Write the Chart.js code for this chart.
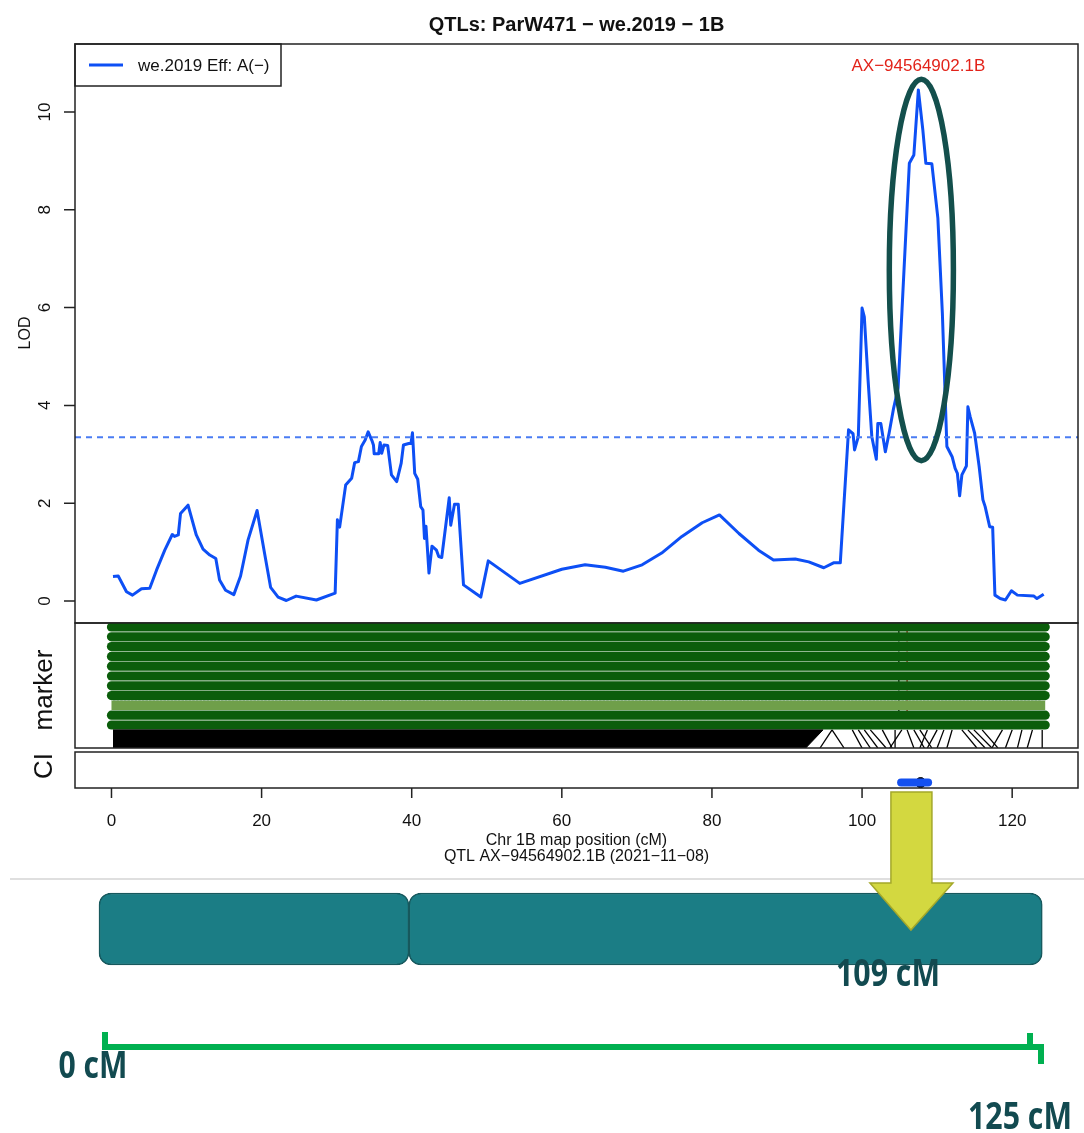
<!DOCTYPE html>
<html>
<head>
<meta charset="utf-8">
<title>QTLs: ParW471 − we.2019 − 1B</title>
<script src="https://cdn.jsdelivr.net/npm/chart.js@4.4.1/dist/chart.umd.min.js"></script>
<style>
  body { margin: 0; background: #fff; }
  #page { position: relative; width: 1084px; height: 1133px; overflow: hidden; }
  #page canvas { position: absolute; left: 0; }
</style>
</head>
<body>
<div id="page">
  <canvas id="lodChart" width="1084" height="625" style="top:0"></canvas>
  <canvas id="markerChart" width="1084" height="130" style="top:620px"></canvas>
  <canvas id="ciChart" width="1084" height="132" style="top:746px"></canvas>
  <canvas id="chromChart" width="1084" height="345" style="top:788px"></canvas>
</div>
<script>
// LOD profile along chromosome 1B (cM, LOD)
const lodPos = [0.2, 0.9, 2.0, 2.8, 4.0, 5.1, 6.0, 7.1, 8.1, 8.4, 8.9, 9.2, 10.2, 11.3, 12.2, 13.1, 13.9, 14.4, 15.2, 16.3,
  17.2, 18.2, 19.4, 20.4, 21.2, 22.2, 23.3, 24.6, 27.3, 29.8, 30.1, 30.4, 31.2, 32.0, 32.4, 32.9, 33.3, 33.8, 34.2, 34.7,
  34.9, 35.0, 35.6, 35.8, 36.0, 36.3, 36.8, 37.3, 38.0, 38.6, 38.9, 39.6, 39.9, 40.1, 40.4, 40.8, 41.2, 41.5, 41.7, 41.9,
  42.3, 42.7, 43.3, 43.6, 44.0, 45.0, 45.2, 45.7, 46.2, 46.9, 49.2, 50.2, 54.4, 60.0, 63.1, 65.8, 68.2, 70.7, 73.3, 76.0,
  78.7, 81.0, 83.6, 86.2, 88.2, 91.1, 92.9, 94.9, 96.2, 97.1, 98.2, 98.8, 99.0, 99.5, 100.0, 100.3, 100.8, 101.3, 101.9, 102.1,
  102.5, 103.1, 103.6, 104.2, 104.8, 106.3, 106.9, 107.5, 108.1, 108.5, 109.3, 110.1, 110.7, 111.3, 112.0, 112.4, 112.7, 113.0, 113.3, 113.9,
  114.1, 114.4, 115.0, 115.6, 116.1, 116.4, 117.0, 117.4, 117.7, 118.4, 119.1, 119.9, 120.7, 122.9, 123.3, 124.2];
const lodValues = [0.50, 0.51, 0.19, 0.12, 0.25, 0.26, 0.63, 1.04, 1.36, 1.32, 1.35, 1.79, 1.96, 1.35, 1.06, 0.94, 0.87, 0.43, 0.22, 0.13,
  0.51, 1.25, 1.85, 0.97, 0.28, 0.08, 0.01, 0.10, 0.02, 0.16, 1.66, 1.51, 2.37, 2.51, 2.83, 2.85, 3.16, 3.29, 3.46, 3.28,
  3.19, 3.01, 3.01, 3.24, 3.02, 3.19, 3.18, 2.58, 2.44, 2.82, 3.19, 3.22, 3.22, 3.44, 2.61, 2.49, 1.93, 1.86, 1.28, 1.53,
  0.57, 1.12, 1.04, 0.91, 0.89, 2.11, 1.55, 1.98, 1.98, 0.33, 0.08, 0.82, 0.36, 0.65, 0.74, 0.69, 0.61, 0.74, 0.98, 1.32,
  1.60, 1.76, 1.38, 1.04, 0.84, 0.86, 0.80, 0.68, 0.78, 0.78, 3.50, 3.42, 3.09, 3.36, 5.99, 5.81, 4.52, 3.36, 2.90, 3.63,
  3.63, 3.05, 3.43, 3.94, 4.35, 8.95, 9.12, 10.45, 9.63, 8.95, 8.94, 7.83, 5.88, 3.16, 2.95, 2.71, 2.61, 2.15, 2.58, 2.76,
  3.97, 3.77, 3.43, 2.75, 2.07, 1.93, 1.52, 1.51, 0.12, 0.05, 0.02, 0.21, 0.12, 0.10, 0.05, 0.14];
const lodThreshold = 3.35;

const xTicks = [0, 20, 40, 60, 80, 100, 120];
const yTicks = [0, 2, 4, 6, 8, 10];

const peakMarker = 'AX\u221294564902.1B';
const peakPos = 107.5;
const seriesName = 'we.2019 Eff: A(\u2212)';

// marker panel
const markerTracks = ['1', '2', '3', '4', '5', '6', '7', '8', '9', '10', '11'];
const markerSpan = [0, 124.4];
const qtlMarkerLines = [104.9, 106.0];
const linkTop = [96.0, 96.0, 98.7, 99.5, 100.3, 101.1, 102.7, 104.4, 105.3, 106.0, 106.9, 107.7, 108.7, 110.0, 110.9, 112.0,
  113.3, 114.1, 114.9, 116.0, 118.7, 120.0, 121.3, 122.7, 124.0];
const linkBottom = [94.4, 97.6, 100.0, 101.1, 102.1, 103.2, 104.0, 104.4, 103.7, 106.9, 108.3, 109.3, 107.7, 108.7, 110.0, 111.3,
  115.3, 116.4, 117.3, 118.1, 117.3, 119.1, 120.7, 122.0, 124.0];
const linkBandTop = [0.2, 94.8];
const linkBandBottom = [0.2, 92.5];
const leftLinkTop = [0.6, 1.2, 1.8, 2.5, 3.2];
const leftLinkBottom = [2.5, 4.5, 7.0, 10.5, 14.0];

// confidence interval
const ciRange = [105.2, 108.8];
const ciPeak = 107.8;

// chromosome sketch
const chromArms = [[-0.8, 40.5], [40.5, 124.9]];
const arrowPos = 107.4;
const chromEnds = [0, 125];

const X_MIN = -4.86, X_MAX = 128.77;
const FONT = '"Liberation Sans", Arial, sans-serif';

function vText(ctx, text, x, y, size, weight) {
  ctx.save();
  ctx.translate(x, y);
  ctx.rotate(-Math.PI / 2);
  ctx.font = (weight || 'normal') + ' ' + size + 'px ' + FONT;
  ctx.textAlign = 'center';
  ctx.textBaseline = 'alphabetic';
  ctx.fillText(text, 0, 0);
  ctx.restore();
}

const lodDecor = {
  id: 'lodDecor',
  afterDatasetsDraw(chart) {
    const { ctx, chartArea: a, scales: { x, y } } = chart;
    ctx.save();
    // highlight ellipse round the peak
    const cx = x.getPixelForValue(107.9), cy = y.getPixelForValue(6.77);
    const rx = x.getPixelForValue(107.9 + 4.27) - cx;
    const ry = cy - y.getPixelForValue(6.77 + 3.9);
    ctx.strokeStyle = '#134f4c';
    ctx.lineWidth = 5.5;
    ctx.beginPath();
    ctx.ellipse(cx, cy, rx, ry, 0, 0, Math.PI * 2);
    ctx.stroke();

    // peak marker name
    ctx.fillStyle = '#e2231a';
    ctx.font = '17px ' + FONT;
    ctx.textAlign = 'center';
    ctx.textBaseline = 'alphabetic';
    ctx.fillText(peakMarker, x.getPixelForValue(peakPos), 71);

    // legend
    ctx.strokeStyle = '#222';
    ctx.lineWidth = 1.5;
    ctx.fillStyle = '#fff';
    ctx.fillRect(a.left, a.top, 206, 42);
    ctx.strokeRect(a.left, a.top, 206, 42);
    ctx.strokeStyle = '#0d4ff5';
    ctx.lineWidth = 3;
    ctx.beginPath();
    ctx.moveTo(89, 65);
    ctx.lineTo(123, 65);
    ctx.stroke();
    ctx.fillStyle = '#111';
    ctx.textAlign = 'left';
    ctx.fillText(seriesName, 138, 71);

    // frame
    ctx.strokeStyle = '#222';
    ctx.lineWidth = 1.5;
    ctx.strokeRect(a.left, a.top, a.right - a.left, a.bottom - a.top);

    // y axis ticks
    ctx.beginPath();
    yTicks.forEach(v => {
      const py = y.getPixelForValue(v);
      ctx.moveTo(a.left - 11, py);
      ctx.lineTo(a.left, py);
    });
    ctx.stroke();
    ctx.fillStyle = '#111';
    yTicks.forEach(v => vText(ctx, String(v), 50, y.getPixelForValue(v), 17));
    vText(ctx, 'LOD', 30, 333, 16);

    // title
    ctx.font = 'bold 20px ' + FONT;
    ctx.textAlign = 'center';
    ctx.fillText('QTLs: ParW471 \u2212 we.2019 \u2212 1B', (a.left + a.right) / 2, 31);
    ctx.restore();
  }
};

new Chart(document.getElementById('lodChart'), {
  type: 'line',
  data: {
    datasets: [
      {
        label: 'threshold',
        data: [{ x: X_MIN, y: lodThreshold }, { x: X_MAX, y: lodThreshold }],
        borderColor: '#4a7cf3',
        borderWidth: 2,
        borderDash: [6, 5],
        pointRadius: 0
      },
      {
        label: seriesName,
        data: lodPos.map((p, i) => ({ x: p, y: lodValues[i] })),
        borderColor: '#0d4ff5',
        borderWidth: 3,
        borderJoinStyle: 'round',
        tension: 0,
        pointRadius: 0
      }
    ]
  },
  options: {
    responsive: false,
    animation: false,
    events: [],
    layout: { padding: { left: 75, right: 6, top: 44, bottom: 2 } },
    scales: {
      x: { type: 'linear', min: X_MIN, max: X_MAX, display: false },
      y: { min: -0.45, max: 11.39, display: false }
    },
    plugins: { legend: { display: false }, tooltip: { enabled: false } }
  },
  plugins: [lodDecor]
});

// marker panel
const markerDatasets = [];
markerDatasets.push({
  label: 'links band',
  data: [
    { x: linkBandTop[0], y: 10.5 }, { x: linkBandTop[1], y: 10.5 },
    { x: linkBandBottom[1], y: 12.35 }, { x: linkBandBottom[0], y: 12.35 }
  ],
  showLine: true,
  fill: 'shape',
  backgroundColor: '#000',
  borderColor: '#000',
  borderWidth: 1,
  pointRadius: 0
});
leftLinkTop.forEach((t, i) => markerDatasets.push({
  label: 'left link ' + i,
  data: [{ x: t, y: 10.9 }, { x: leftLinkBottom[i], y: 12.3 }],
  showLine: true,
  borderColor: '#fff',
  borderWidth: 1,
  pointRadius: 0
}));
linkTop.forEach((t, i) => markerDatasets.push({
  label: 'link ' + i,
  data: [{ x: t, y: 10.5 }, { x: linkBottom[i], y: 12.35 }],
  showLine: true,
  borderColor: '#000',
  borderWidth: 1.3,
  pointRadius: 0
}));
markerTracks.forEach((t, i) => markerDatasets.push({
  label: 'track ' + t,
  data: [{ x: markerSpan[0], y: i }, { x: markerSpan[1], y: i }],
  showLine: true,
  borderColor: i === 8 ? '#6f9f4a' : '#0b5d0b',
  borderWidth: 9.2,
  borderCapStyle: i === 8 ? 'butt' : 'round',
  pointRadius: 0
}));
markerDatasets.push({
  label: 'track 9 stripes',
  data: [{ x: markerSpan[0] + 0.2, y: 8 }, { x: markerSpan[1] - 0.6, y: 8 }],
  showLine: true,
  borderColor: '#175f12',
  borderWidth: 9.2,
  borderDash: [2.6, 1],
  pointRadius: 0
});
qtlMarkerLines.forEach((p, i) => markerDatasets.push({
  label: 'qtl marker ' + i,
  data: [{ x: p, y: -0.35 }, { x: p, y: 10.4 }],
  showLine: true,
  borderColor: i === 0 ? '#111' : '#c01515',
  borderWidth: 1.4,
  borderDash: [4, 3],
  pointRadius: 0
}));

const markerDecor = {
  id: 'markerDecor',
  afterDatasetsDraw(chart) {
    const { ctx, chartArea: a } = chart;
    ctx.save();
    ctx.strokeStyle = '#222';
    ctx.lineWidth = 1.5;
    ctx.strokeRect(a.left, a.top, a.right - a.left, a.bottom - a.top);
    ctx.fillStyle = '#111';
    vText(ctx, 'marker', 52, 70, 26);
    ctx.restore();
  }
};

new Chart(document.getElementById('markerChart'), {
  type: 'scatter',
  data: { datasets: markerDatasets },
  options: {
    responsive: false,
    animation: false,
    events: [],
    layout: { padding: { left: 75, right: 6, top: 3, bottom: 2 } },
    scales: {
      x: { type: 'linear', min: X_MIN, max: X_MAX, display: false },
      y: { min: -0.41, max: 12.35, reverse: true, display: false }
    },
    plugins: { legend: { display: false }, tooltip: { enabled: false } }
  },
  plugins: [markerDecor]
});

// CI panel and map axis
const ciDecor = {
  id: 'ciDecor',
  afterDatasetsDraw(chart) {
    const { ctx, chartArea: a, scales: { x } } = chart;
    ctx.save();
    ctx.strokeStyle = '#222';
    ctx.lineWidth = 1.5;
    ctx.strokeRect(a.left, a.top, a.right - a.left, a.bottom - a.top);
    ctx.beginPath();
    xTicks.forEach(v => {
      const px = x.getPixelForValue(v);
      ctx.moveTo(px, a.bottom);
      ctx.lineTo(px, a.bottom + 10);
    });
    ctx.stroke();
    ctx.fillStyle = '#111';
    ctx.font = '17px ' + FONT;
    ctx.textAlign = 'center';
    ctx.textBaseline = 'alphabetic';
    xTicks.forEach(v => ctx.fillText(String(v), x.getPixelForValue(v), 80));
    const mid = (a.left + a.right) / 2;
    ctx.font = '16px ' + FONT;
    ctx.fillText('Chr 1B map position (cM)', mid, 99);
    ctx.fillText('QTL AX\u221294564902.1B (2021\u221211\u221208)', mid, 115);
    vText(ctx, 'CI', 52, 20, 26);
    ctx.restore();
  }
};

new Chart(document.getElementById('ciChart'), {
  type: 'scatter',
  data: {
    datasets: [
      {
        label: 'CI',
        data: [{ x: ciRange[0], y: 0.15 }, { x: ciRange[1], y: 0.15 }],
        showLine: true,
        borderColor: '#1450f0',
        borderWidth: 8,
        borderCapStyle: 'round',
        pointRadius: 0
      },
      {
        label: 'peak',
        data: [{ x: ciPeak, y: 0.15 }],
        backgroundColor: '#000',
        borderColor: '#000',
        pointRadius: 5
      }
    ]
  },
  options: {
    responsive: false,
    animation: false,
    events: [],
    layout: { padding: { left: 75, right: 6, top: 2, bottom: 90 } },
    scales: {
      x: { type: 'linear', min: X_MIN, max: X_MAX, display: false },
      y: { min: 0, max: 1, display: false }
    },
    plugins: { legend: { display: false }, tooltip: { enabled: false } }
  },
  plugins: [ciDecor]
});

// chromosome sketch below the plot
function condensedText(ctx, text, cx, cy, targetW) {
  ctx.save();
  ctx.font = 'bold 37px "Open Sans", sans-serif';
  const w = ctx.measureText(text).width;
  ctx.translate(cx, cy);
  ctx.scale(targetW / w, 1);
  ctx.fillStyle = '#124a50';
  ctx.textAlign = 'center';
  ctx.textBaseline = 'middle';
  ctx.fillText(text, 0, 0);
  ctx.restore();
}

const chromDecor = {
  id: 'chromDecor',
  beforeDatasetsDraw(chart) {
    const { ctx } = chart;
    ctx.save();
    ctx.strokeStyle = '#d4d4d4';
    ctx.lineWidth = 1.5;
    ctx.beginPath();
    ctx.moveTo(10, 91);
    ctx.lineTo(1084, 91);
    ctx.stroke();
    ctx.restore();
  },
  afterDatasetsDraw(chart) {
    const { ctx, scales: { x } } = chart;
    ctx.save();
    // arrow
    const tip = x.getPixelForValue(arrowPos);
    ctx.fillStyle = '#d3d840';
    ctx.strokeStyle = '#a4a82a';
    ctx.lineWidth = 1.5;
    ctx.beginPath();
    ctx.moveTo(tip - 20, 4);
    ctx.lineTo(tip + 21, 4);
    ctx.lineTo(tip + 21, 95);
    ctx.lineTo(tip + 42, 95);
    ctx.lineTo(tip, 142);
    ctx.lineTo(tip - 41, 95);
    ctx.lineTo(tip - 20, 95);
    ctx.closePath();
    ctx.fill();
    ctx.stroke();

    // bracket from start to end of chromosome
    const x0 = x.getPixelForValue(chromEnds[0]);
    const x1 = x.getPixelForValue(chromEnds[1]);
    ctx.strokeStyle = '#00b050';
    ctx.lineWidth = 6;
    ctx.lineCap = 'butt';
    ctx.beginPath();
    ctx.moveTo(x0, 244);
    ctx.lineTo(x0, 262);
    ctx.moveTo(x0 - 3, 259);
    ctx.lineTo(x1 - 2, 259);
    ctx.lineTo(x1 - 2, 276);
    ctx.moveTo(x1 - 13, 245);
    ctx.lineTo(x1 - 13, 259);
    ctx.stroke();

    condensedText(ctx, '109 cM', 888, 187, 104);
    condensedText(ctx, '0 cM', 93, 279, 69);
    condensedText(ctx, '125 cM', 1020, 330, 104);
    ctx.restore();
  }
};

new Chart(document.getElementById('chromChart'), {
  type: 'bar',
  data: {
    labels: ['1B'],
    datasets: chromArms.map((arm, i) => ({
      label: 'arm ' + (i + 1),
      data: [arm],
      backgroundColor: '#1b7d85',
      borderColor: '#17585d',
      borderWidth: 1.5,
      borderSkipped: false,
      borderRadius: 12,
      barPercentage: 1,
      categoryPercentage: 1,
      grouped: false,
      clip: false
    }))
  },
  options: {
    indexAxis: 'y',
    responsive: false,
    animation: false,
    events: [],
    layout: { padding: { left: 105, right: 41, top: 105, bottom: 168 } },
    scales: {
      x: { type: 'linear', min: 0, max: 125, display: false },
      y: { display: false }
    },
    plugins: { legend: { display: false }, tooltip: { enabled: false } }
  },
  plugins: [chromDecor]
});
</script>
</body>
</html>
